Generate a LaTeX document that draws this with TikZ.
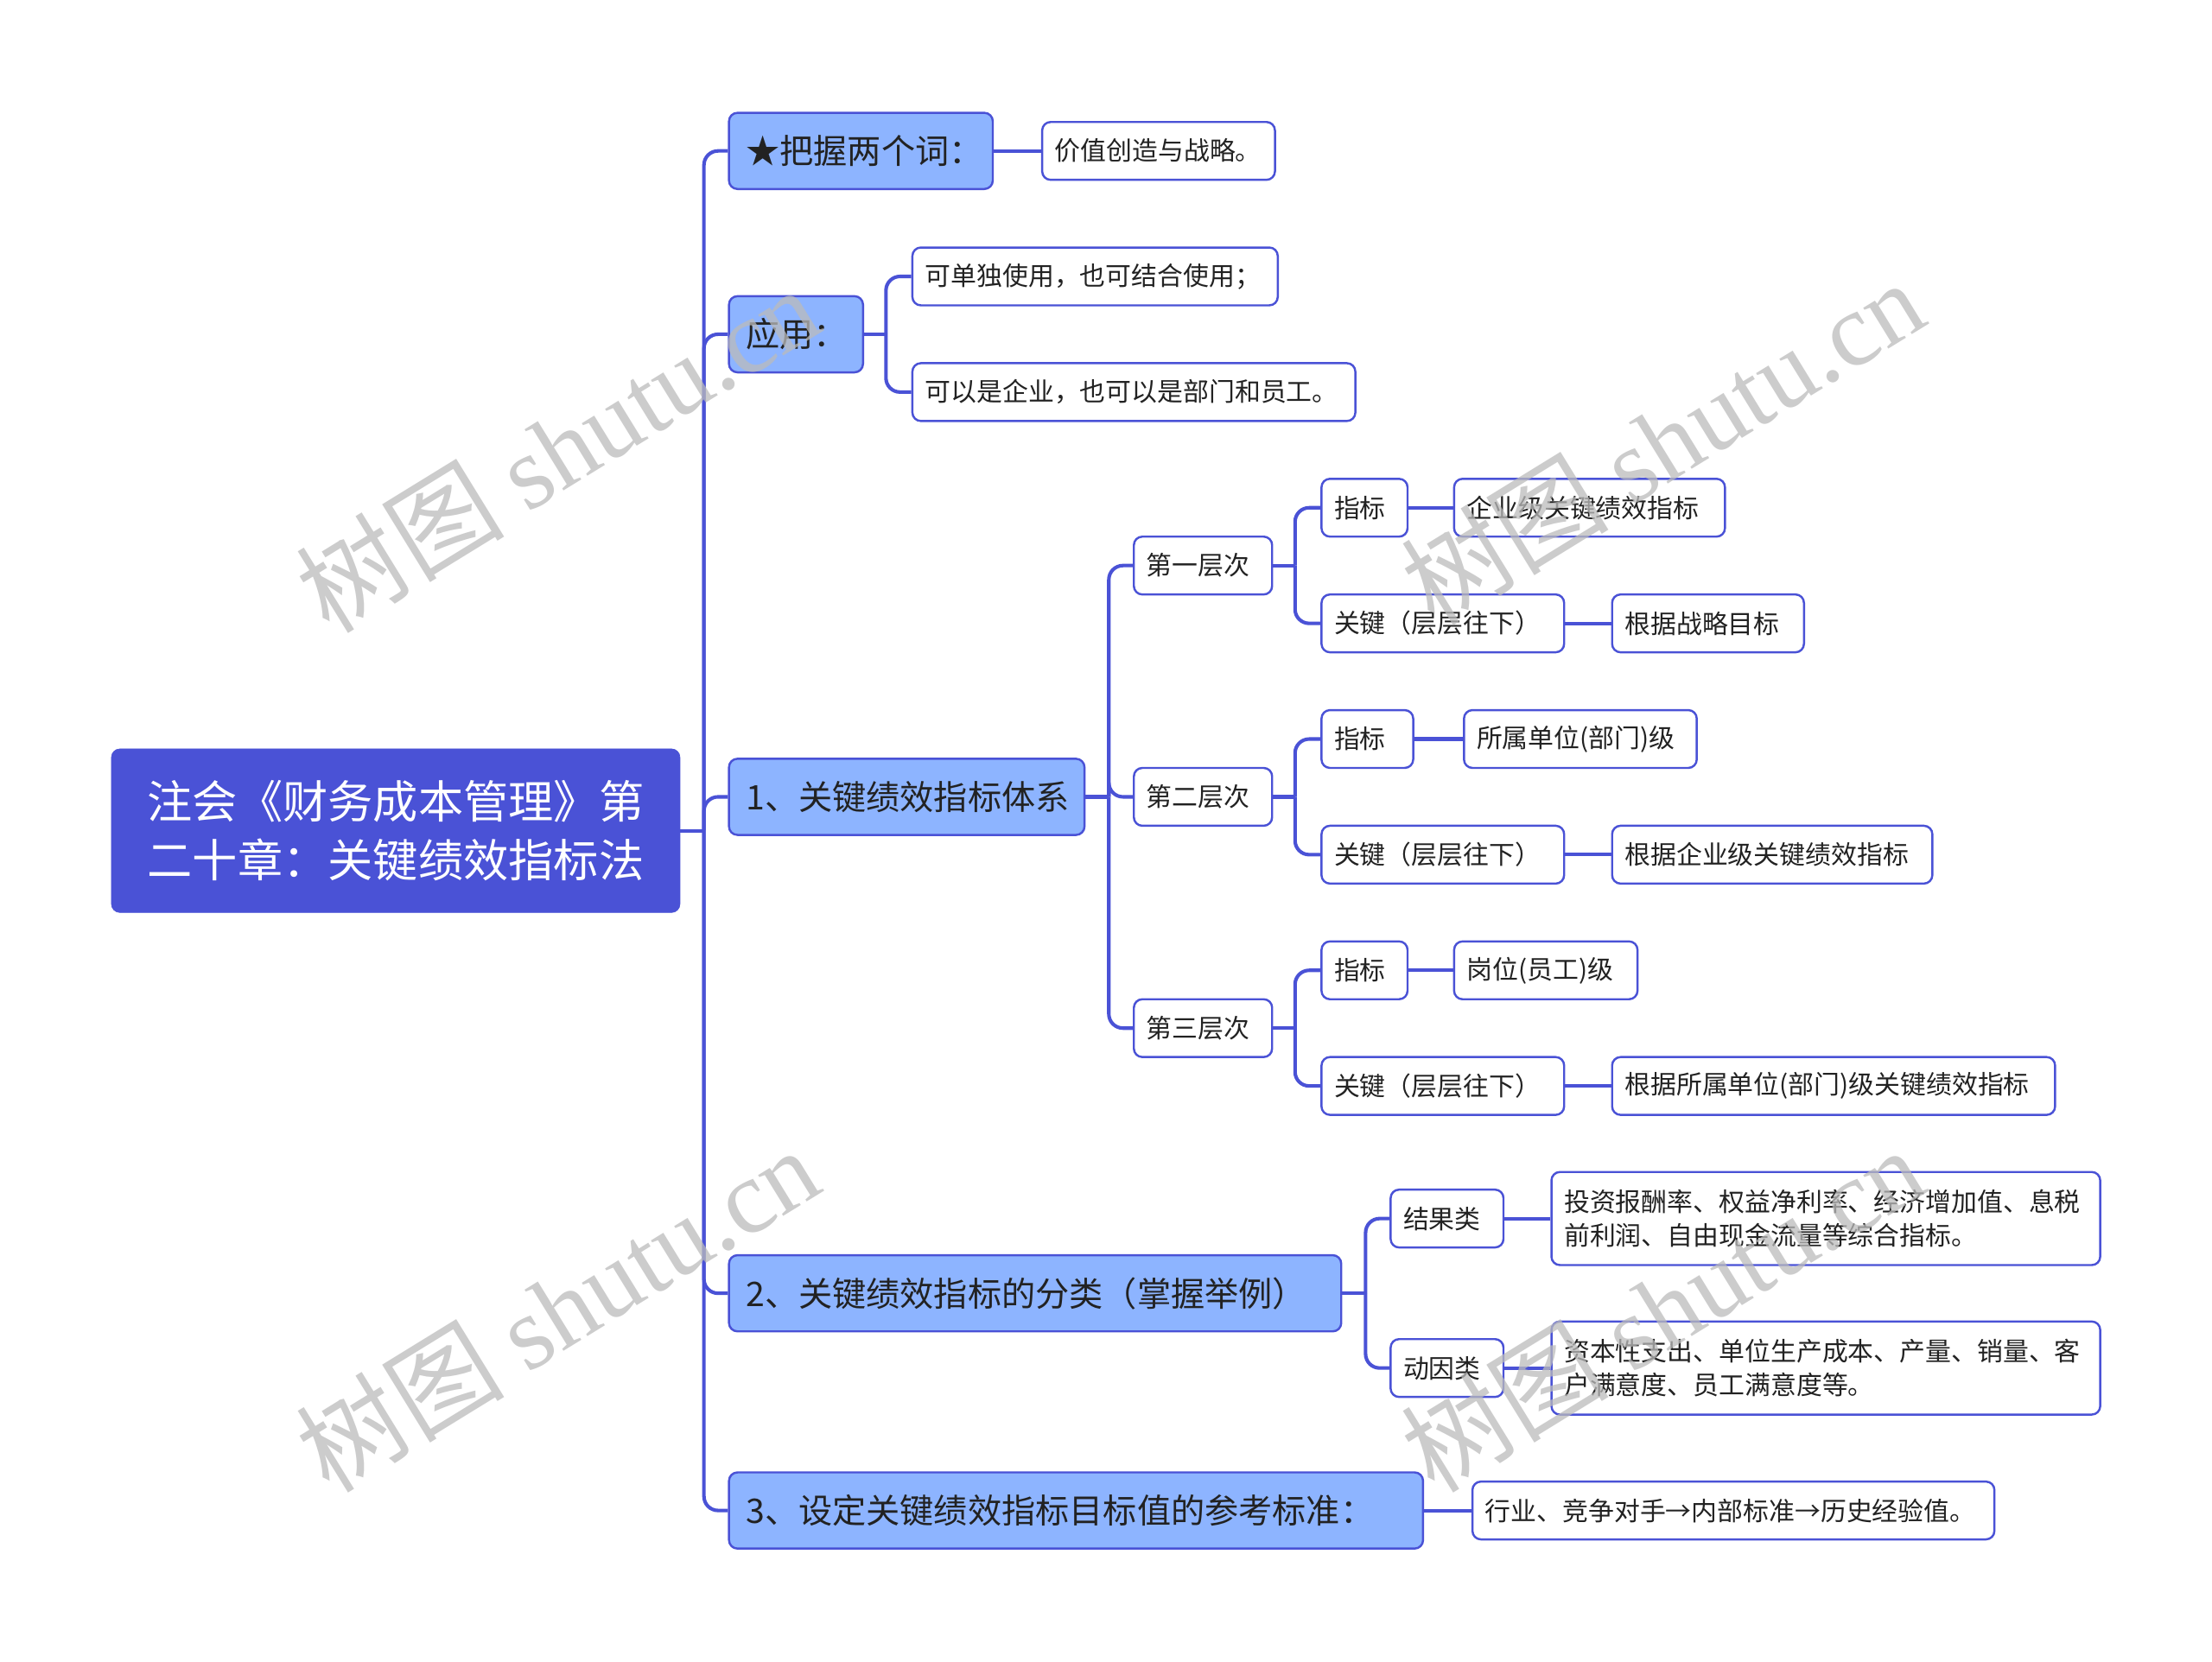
\documentclass[tikz,border=0pt]{standalone}
\usepackage{fontspec}
\setmainfont{Noto Sans CJK SC}
\newfontfamily\wmfont{Liberation Serif}
\usetikzlibrary{calc}
\definecolor{rootc}{HTML}{4A52D6}
\definecolor{lonec}{HTML}{8DB4FF}
\definecolor{linec}{HTML}{4A52D6}
\definecolor{txt}{HTML}{222222}
\definecolor{wmc}{HTML}{BBBBBB}
\tikzset{
  rootbox/.style={fill=rootc, draw=rootc, rounded corners=6pt, text=white, font=\fontsize{32}{42}\selectfont, align=center, inner sep=0pt, minimum width=403pt, minimum height=116pt},
  lonebox/.style={fill=lonec, draw=linec, line width=1.5pt, rounded corners=6pt, text=txt, font=\fontsize{24}{28}\selectfont, inner xsep=12pt, inner ysep=0pt, minimum height=54pt, anchor=west, align=left},
  leafbox/.style={fill=white, draw=linec, line width=1.5pt, rounded corners=6pt, text=txt, font=\fontsize{18.3}{24}\selectfont, inner xsep=9pt, inner ysep=0pt, minimum height=41pt, anchor=west, align=left},
  conn/.style={draw=linec, line width=2.5pt},
  elbow/.style={draw=linec, line width=2.5pt, rounded corners=10pt},
  wm/.style={text=wmc, opacity=0.75, font=\fontsize{74}{74}\selectfont, rotate=31.6, inner sep=0pt}
}
\begin{document}
\begin{tikzpicture}[x=1pt,y=-1pt]
\useasboundingbox (0,0) rectangle (1568,1178);
\fill[white] (0,0) rectangle (1568,1178);

% bus coordinates
\coordinate (tr) at (499,0);
\coordinate (ba) at (628,0);
\coordinate (bone) at (786,0);
\coordinate (bl) at (918,0);
\coordinate (btwo) at (968,0);

% root
\node[rootbox] (root) at (280.5,589) {注会《财务成本管理》第\\二十章：关键绩效指标法};

% level one
\node[lonebox, text width=163pt] (star) at (516,107) {★把握两个词：};
\node[lonebox, text width=71pt] (app) at (516,237) {应用：};
\node[lonebox, text width=228pt] (n1) at (516,565) {1、关键绩效指标体系};
\node[lonebox, text width=410pt] (n2) at (516,917) {2、关键绩效指标的分类（掌握举例）};
\node[lonebox, text width=468pt] (n3) at (516,1071) {3、设定关键绩效指标目标值的参考标准：};

% leaves
\node[leafbox, text width=147pt] (val) at (738,107) {价值创造与战略。};
\node[leafbox, text width=241pt] (ap1) at (646,196) {可单独使用，也可结合使用；};
\node[leafbox, text width=296pt] (ap2) at (646,278) {可以是企业，也可以是部门和员工。};

\node[leafbox, text width=80pt] (la) at (803,401) {第一层次};
\node[leafbox, text width=80pt] (lb) at (803,565) {第二层次};
\node[leafbox, text width=80pt] (lc) at (803,729) {第三层次};

\node[leafbox, text width=43pt] (ia) at (936,360) {指标};
\node[leafbox, text width=174pt] (iav) at (1030,360) {企业级关键绩效指标};
\node[leafbox, text width=154pt] (ka) at (936,442) {关键（层层往下）};
\node[leafbox, text width=118pt] (kav) at (1142,442) {根据战略目标};

\node[leafbox, text width=47pt] (ib) at (936,524) {指标};
\node[leafbox, text width=147pt] (ibv) at (1037,524) {所属单位(部门)级};
\node[leafbox, text width=154pt] (kb) at (936,606) {关键（层层往下）};
\node[leafbox, text width=209pt] (kbv) at (1142,606) {根据企业级关键绩效指标};

\node[leafbox, text width=43pt] (ic) at (936,688) {指标};
\node[leafbox, text width=112pt] (icv) at (1030,688) {岗位(员工)级};
\node[leafbox, text width=154pt] (kc) at (936,770) {关键（层层往下）};
\node[leafbox, text width=296pt] (kcv) at (1142,770) {根据所属单位(部门)级关键绩效指标};

\node[leafbox, text width=62pt] (ra) at (985,864) {结果类};
\node[leafbox, text width=371pt, minimum height=66pt] (rav) at (1099,864) {投资报酬率、权益净利率、经济增加值、息税\\前利润、自由现金流量等综合指标。};
\node[leafbox, text width=62pt] (rb) at (985,970) {动因类};
\node[leafbox, text width=371pt, minimum height=66pt] (rbv) at (1099,970) {资本性支出、单位生产成本、产量、销量、客\\户满意度、员工满意度等。};

\node[leafbox, text width=352pt] (std) at (1043,1071) {行业、竞争对手→内部标准→历史经验值。};

% connectors: root to trunk
\draw[conn] (root.east) -- (root.east -| tr);
\foreach \c in {star,app,n1,n2,n3}
  \draw[elbow] (root.east -| tr) |- (\c.west);

% star
\draw[conn] (star.east) -- (val.west);

% app
\draw[conn] (app.east) -- (app.east -| ba);
\foreach \c in {ap1,ap2}
  \draw[elbow] (app.east -| ba) |- (\c.west);

% n1
\draw[conn] (n1.east) -- (n1.east -| bone);
\foreach \c in {la,lb,lc}
  \draw[elbow] (n1.east -| bone) |- (\c.west);

% layers
\foreach \p/\a/\b in {la/ia/ka, lb/ib/kb, lc/ic/kc}{
  \draw[conn] (\p.east) -- (\p.east -| bl);
  \draw[elbow] (\p.east -| bl) |- (\a.west);
  \draw[elbow] (\p.east -| bl) |- (\b.west);
}
\draw[conn] (ia.east) -- (iav.west);
\draw[conn] (ka.east) -- (kav.west);
\draw[conn] (ib.east) -- (ibv.west);
\draw[conn] (kb.east) -- (kbv.west);
\draw[conn] (ic.east) -- (icv.west);
\draw[conn] (kc.east) -- (kcv.west);

% n2
\draw[conn] (n2.east) -- (n2.east -| btwo);
\foreach \c in {ra,rb}
  \draw[elbow] (n2.east -| btwo) |- (\c.west);
\draw[conn] (ra.east) -- (rav.west);
\draw[conn] (rb.east) -- (rbv.west);

% n3
\draw[conn] (n3.east) -- (std.west);

% watermarks
\node[wm] (wma) at (395,318) {树图 {\wmfont shutu.cn}};
\node[wm] (wmb) at (1178,313) {树图 {\wmfont shutu.cn}};
\node[wm] (wmc) at (395,928) {树图 {\wmfont shutu.cn}};
\node[wm] (wmd) at (1178,928) {树图 {\wmfont shutu.cn}};
\end{tikzpicture}
\end{document}
